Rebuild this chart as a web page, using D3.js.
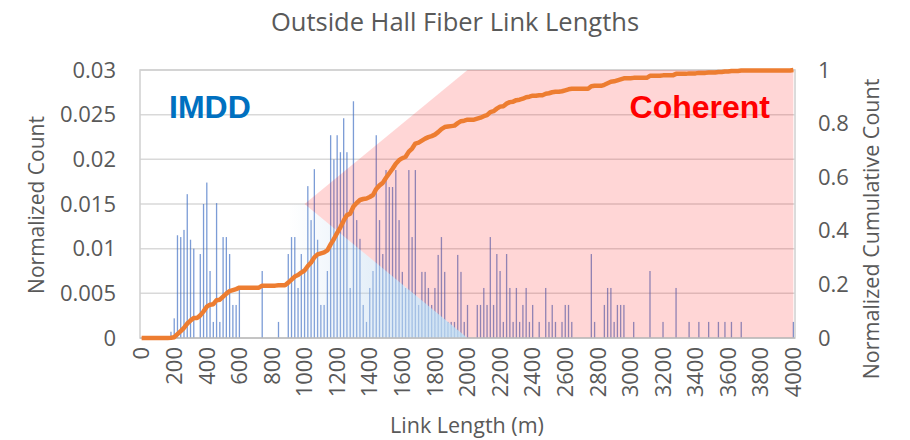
<!DOCTYPE html>
<html lang="en">
<head>
  <meta charset="UTF-8">
  <title>Outside Hall Fiber Link Lengths</title>
  <script src="https://cdn.jsdelivr.net/npm/d3@7"></script>
  <style>
    body { margin: 0; background: #fff; }
    text { font-family: "Open Sans", sans-serif; }
  </style>
</head>
<body>
  <script>
    "use strict";
    // 20 m bins from 0 to 4000 m
    var bins = d3.range(0, 4001, 20);

    // normalized count per bin, one row per 200 m
    var normCount = [
      0, 0, 0, 0, 0, 0, 0, 0, 0, 0.0007,
      0.0022, 0.0115, 0.0113, 0.0121, 0.0161, 0.011, 0.01, 0, 0.0094, 0.015,
      0.0174, 0.0075, 0.0018, 0.0151, 0.0018, 0.0113, 0.0113, 0.0094, 0.0037, 0.0037,
      0.0054, 0, 0, 0, 0, 0, 0, 0.0075, 0, 0,
      0, 0, 0.0018, 0, 0, 0.0094, 0.0113, 0.0113, 0.0056, 0.0094,
      0.0075, 0.017, 0.0132, 0.0189, 0.011, 0.0037, 0.0037, 0.0075, 0.0227, 0.02,
      0.0227, 0.0208, 0.0246, 0.0208, 0.0056, 0.0265, 0.0132, 0.0111, 0.0037, 0.0018,
      0.0056, 0.0075, 0.0227, 0.0132, 0.0094, 0.0188, 0.0169, 0.0169, 0.0188, 0.0132,
      0.0074, 0.0056, 0.0188, 0.0113, 0.0188, 0.0037, 0.0074, 0.0074, 0.0056, 0.0037,
      0.0056, 0.0093, 0.0113, 0.0074, 0.0018, 0.0018, 0.0018, 0.0093, 0.0074, 0.0018,
      0.0037, 0, 0, 0.0037, 0.0037, 0.0056, 0.0037, 0.0113, 0.0037, 0.0094,
      0.0075, 0.0018, 0.0094, 0.0056, 0.0018, 0.0056, 0.0018, 0.0037, 0.0056, 0.0018,
      0.0037, 0, 0.0018, 0, 0.0056, 0.0018, 0.0037, 0.0018, 0, 0.0018,
      0.0037, 0.0037, 0.0018, 0, 0, 0, 0, 0, 0.0094, 0.0018,
      0, 0, 0.0037, 0.0056, 0.0056, 0.0018, 0.0037, 0.0037, 0.0037, 0,
      0, 0.0018, 0, 0, 0, 0, 0.0075, 0, 0, 0,
      0.0018, 0, 0, 0, 0.0056, 0, 0, 0, 0.0018, 0,
      0, 0.0018, 0, 0, 0.0018, 0, 0, 0.0018, 0, 0.0018,
      0, 0.0018, 0, 0, 0.0018, 0, 0, 0, 0, 0,
      0, 0, 0, 0, 0, 0, 0, 0, 0, 0,
      0.0018
    ];

    var xTickLabels = ["0", "200", "400", "600", "800", "1000", "1200", "1400", "1600", "1800", "2000",
      "2200", "2400", "2600", "2800", "3000", "3200", "3400", "3600", "3800", "4000"];
    var leftTicks = [0, 0.005, 0.01, 0.015, 0.02, 0.025, 0.03];
    var leftTickLabels = ["0", "0.005", "0.01", "0.015", "0.02", "0.025", "0.03"];
    var rightTicks = [0, 0.2, 0.4, 0.6, 0.8, 1];
    var rightTickLabels = ["0", "0.2", "0.4", "0.6", "0.8", "1"];

    // callout shapes (link length m, normalized count)
    var coherentShape = [[1000, 0.015], [2000, 0.03], [4000, 0.03], [4000, 0], [2000, 0]];
    var imddShape = [[0, 0.015], [1000, 0.015], [2000, 0], [0, 0]];

    // cumulative count = running sum / total
    var total = d3.sum(normCount);
    var cumulative = d3.cumsum(normCount).map(function (v) { return v / total; });

    var W = 910, H = 440;
    var plotL = 140, plotR = 795, plotT = 70, plotB = 338;

    var svg = d3.select('body').append('svg')
      .attr('width', W)
      .attr('height', H);

    var x = d3.scaleBand().domain(bins).range([plotL, plotR]).paddingInner(0);
    var xc = function (b) { return x(b) + x.bandwidth() / 2; };
    var xl = d3.scaleLinear().domain([0, 4000]).range([xc(0), xc(4000)]);
    var yL = d3.scaleLinear().domain([0, 0.03]).range([plotB, plotT]);
    var yR = d3.scaleLinear().domain([0, 1]).range([plotB, plotT]);

    var defs = svg.append('defs');
    var grad = defs.append('linearGradient')
      .attr('id', 'imddGrad')
      .attr('gradientUnits', 'userSpaceOnUse')
      .attr('x1', xl(900)).attr('x2', xl(2000))
      .attr('y1', 0).attr('y2', 0);
    grad.append('stop').attr('offset', 0).attr('stop-color', '#bdd7ee').attr('stop-opacity', 0);
    grad.append('stop').attr('offset', 1).attr('stop-color', '#bdd7ee').attr('stop-opacity', 0.85);

    // gridlines
    svg.append('g')
      .selectAll('line')
      .data(leftTicks)
      .enter().append('line')
      .attr('x1', plotL).attr('x2', plotR)
      .attr('y1', function (d) { return yL(d); })
      .attr('y2', function (d) { return yL(d); })
      .attr('stroke', '#d9d9d9')
      .attr('stroke-width', 1.5);

    // plot border
    svg.append('rect')
      .attr('x', plotL).attr('y', plotT)
      .attr('width', plotR - plotL).attr('height', plotB - plotT)
      .attr('fill', 'none')
      .attr('stroke', '#d0d0d0')
      .attr('stroke-width', 1.5);

    // histogram bars
    var bars = bins.map(function (b, i) { return { bin: b, v: normCount[i] }; })
      .filter(function (d) { return d.v > 0; });
    svg.append('g')
      .selectAll('rect')
      .data(bars)
      .enter().append('rect')
      .attr('x', function (d) { return xc(d.bin) - 0.65; })
      .attr('width', 1.3)
      .attr('y', function (d) { return yL(d.v); })
      .attr('height', function (d) { return yL(0) - yL(d.v); })
      .attr('fill', '#4472c4')
      .attr('fill-opacity', 0.7);

    var shapeLine = d3.line()
      .x(function (d) { return xl(d[0]); })
      .y(function (d) { return yL(d[1]); });

    // IMDD / coherent callouts
    svg.append('path')
      .attr('d', shapeLine(imddShape) + 'Z')
      .attr('fill', 'url(#imddGrad)');
    svg.append('path')
      .attr('d', shapeLine(coherentShape) + 'Z')
      .attr('fill', '#ff0000')
      .attr('fill-opacity', 0.16);

    // axis line
    svg.append('line')
      .attr('x1', plotL).attr('x2', plotR)
      .attr('y1', plotB).attr('y2', plotB)
      .attr('stroke', '#bfbfbf')
      .attr('stroke-width', 1.5);

    // cumulative line
    var cumLine = d3.line()
      .x(function (d, i) { return xc(bins[i]); })
      .y(function (d) { return yR(d); });
    svg.append('path')
      .datum(cumulative)
      .attr('fill', 'none')
      .attr('stroke', '#ed7d31')
      .attr('stroke-width', 4.5)
      .attr('stroke-linejoin', 'round')
      .attr('d', cumLine);

    // axes
    var xAxis = d3.axisBottom(x)
      .tickValues(bins.filter(function (b) { return b % 200 === 0; }))
      .tickSize(0)
      .tickFormat(function (d, i) { return xTickLabels[i]; });
    var gx = svg.append('g')
      .attr('transform', 'translate(0,' + plotB + ')')
      .call(xAxis);
    gx.select('.domain').remove();
    gx.selectAll('text')
      .attr('transform', 'rotate(-90)')
      .attr('x', -9).attr('y', 0).attr('dy', '0.35em')
      .style('text-anchor', 'end')
      .attr('fill', '#595959')
      .style('font-size', '22px');

    var gl = svg.append('g')
      .attr('transform', 'translate(' + plotL + ',0)')
      .call(d3.axisLeft(yL).tickValues(leftTicks).tickSize(0).tickPadding(24)
        .tickFormat(function (d, i) { return leftTickLabels[i]; }));
    gl.select('.domain').remove();
    gl.selectAll('text').attr('fill', '#595959').style('font-size', '22px');

    var gr = svg.append('g')
      .attr('transform', 'translate(' + plotR + ',0)')
      .call(d3.axisRight(yR).tickValues(rightTicks).tickSize(0).tickPadding(23)
        .tickFormat(function (d, i) { return rightTickLabels[i]; }));
    gr.select('.domain').remove();
    gr.selectAll('text').attr('fill', '#595959').style('font-size', '22px');

    // titles
    svg.append('text')
      .attr('x', 455).attr('y', 31)
      .attr('text-anchor', 'middle')
      .attr('fill', '#595959')
      .style('font-size', '25.5px')
      .text('Outside Hall Fiber Link Lengths');
    svg.append('text')
      .attr('x', 467).attr('y', 433)
      .attr('text-anchor', 'middle')
      .attr('fill', '#595959')
      .style('font-size', '21.5px')
      .text('Link Length (m)');
    svg.append('text')
      .attr('transform', 'translate(44,205) rotate(-90)')
      .attr('text-anchor', 'middle')
      .attr('fill', '#595959')
      .style('font-size', '21px')
      .text('Normalized Count');
    svg.append('text')
      .attr('transform', 'translate(879,229) rotate(-90)')
      .attr('text-anchor', 'middle')
      .attr('fill', '#595959')
      .style('font-size', '21.5px')
      .text('Normalized Cumulative Count');

    svg.append('text')
      .attr('x', 169).attr('y', 118)
      .attr('fill', '#0070c0')
      .style('font-family', '"Liberation Sans", Arial, sans-serif')
      .style('font-weight', 'bold')
      .style('font-size', '32px')
      .text('IMDD');
    svg.append('text')
      .attr('x', 770).attr('y', 118)
      .attr('text-anchor', 'end')
      .attr('fill', '#ff0000')
      .style('font-family', '"Liberation Sans", Arial, sans-serif')
      .style('font-weight', 'bold')
      .style('font-size', '32px')
      .text('Coherent');
  </script>
</body>
</html>
